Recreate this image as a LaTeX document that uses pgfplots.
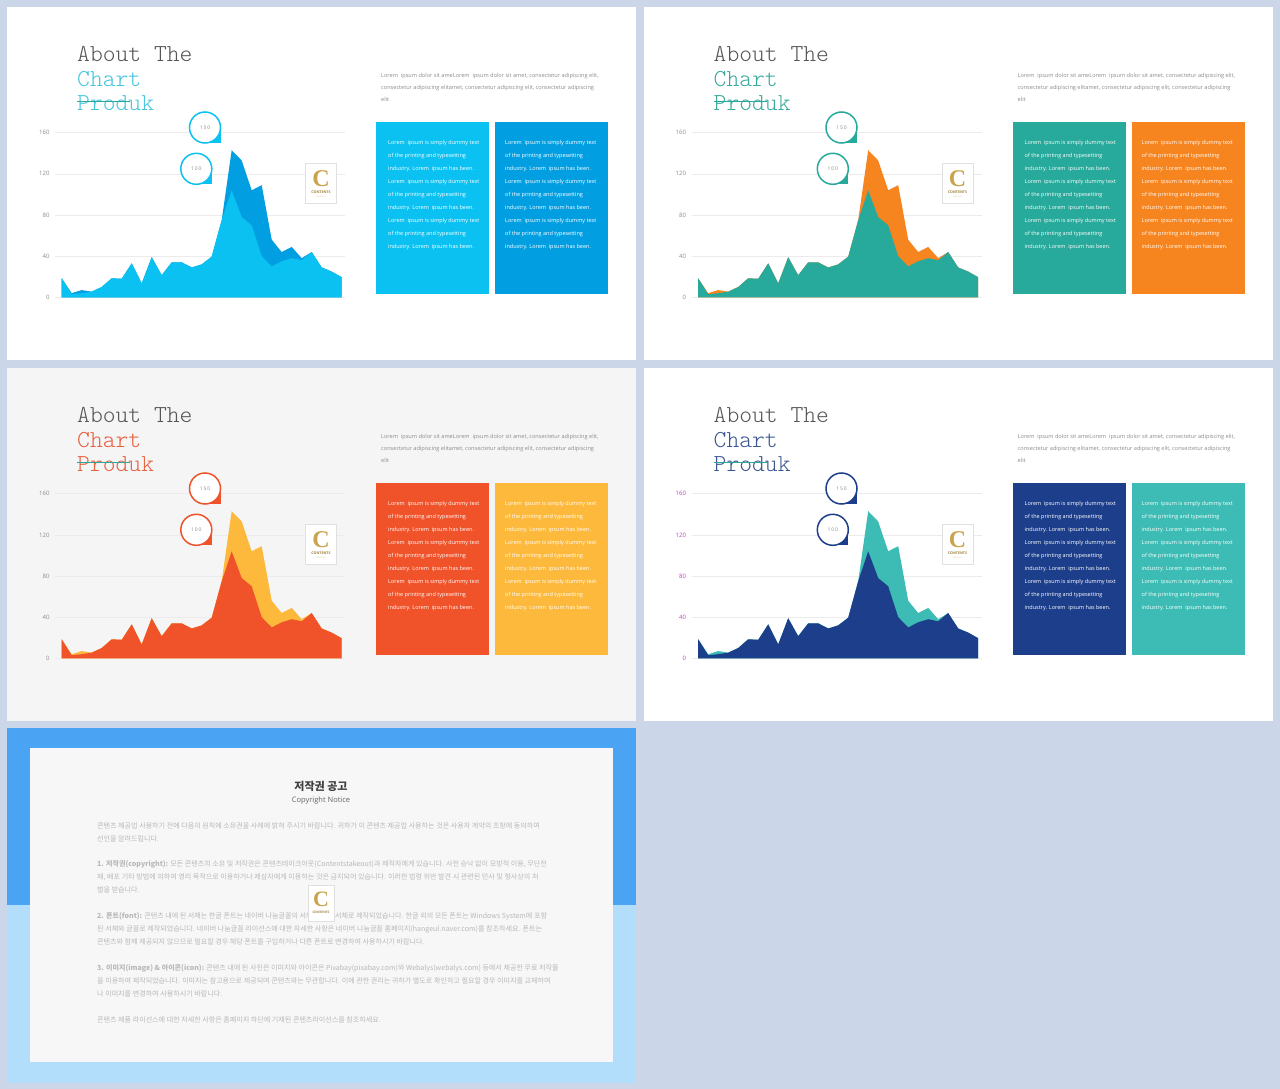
\documentclass[border=0pt]{standalone}
\usepackage{fontspec}
\setmainfont{Open Sans}
\newfontfamily\kr{Noto Sans CJK KR}
\newfontfamily\serifc{Liberation Serif}
\newfontfamily\titlemono{Latin Modern Mono Light}
\usepackage{pgfplots}
\pgfplotsset{compat=1.18}
\usepackage{pgfplotstable}

\definecolor{pagebg}{HTML}{CBD6E8}
\definecolor{gridc}{HTML}{EBEBEB}
\definecolor{txtgray}{HTML}{8C8C8C}
\definecolor{titlegray}{HTML}{555555}
\definecolor{strike}{HTML}{2BA89A}
\definecolor{goldc}{HTML}{C9A44C}
\definecolor{cyanA}{HTML}{0BC1F1}
\definecolor{blueB}{HTML}{019FE2}
\definecolor{cyanT}{HTML}{45C6DE}
\definecolor{tealA}{HTML}{27A99B}
\definecolor{orangeB}{HTML}{F6841F}
\definecolor{tealT}{HTML}{3AAA9C}
\definecolor{redA}{HTML}{F0522A}
\definecolor{yellowB}{HTML}{FDB93C}
\definecolor{redT}{HTML}{E8603F}
\definecolor{navyA}{HTML}{1D3F8B}
\definecolor{tealB}{HTML}{3CBCB4}
\definecolor{navyT}{HTML}{3C5792}
\definecolor{magT}{HTML}{C43CC4}
\definecolor{slgray}{HTML}{F5F5F5}
\definecolor{cpTop}{HTML}{4BA3F4}
\definecolor{cpBot}{HTML}{B2DEFB}
\definecolor{cpCard}{HTML}{F7F7F7}
\definecolor{krgray}{HTML}{B8B8B8}

% 29 points, back series drawn first, front series over it
\pgfplotstableread{
x front back
0 18.5 18.5
1 3 4
2 4 7
3 5.5 5.5
4 10 10
5 18.5 18.5
6 18 18
7 33 33
8 13.5 13.5
9 39 39
10 21.5 21.5
11 34 34
12 34 34
13 29 29
14 32 32
15 39.5 39.5
16 75 75
17 104 143
18 78 133
19 70 104
20 40 109
21 30 56
22 35 44
23 38 49
24 36 38
25 44 44
26 29 29
27 25 25
28 19.5 19.5
}\chartdata

\newcommand\bubble[4]{%
  \fill[#4] (#1,#2) rectangle ++(15.5,15.5);
  \fill[white] (#1,#2) circle[radius=15.5];
  \draw[#4, line width=1.5pt] (#1,#2) circle[radius=15.5];
  \node[font=\fontsize{5}{5}\selectfont, text=txtgray] at (#1,#2) {#3};
}

\newcommand\logo[2]{%
  \draw[draw=black!12, fill=white, line width=0.6pt] (#1-15.5,#2-20) rectangle (#1+15.5,#2+20);
  \node[text=goldc, font=\serifc\fontsize{24}{24}\selectfont\bfseries] at (#1,#2-4) {C};
  \node[text=goldc!80!black, font=\fontsize{3.6}{4}\selectfont\bfseries] at (#1,#2+9) {CONTENTS};
  \node[text=goldc!70, font=\fontsize{2}{2}\selectfont] at (#1,#2+14) {TAKE OUT};
}

\newcommand\boxlines{Lorem\ \ ipsum is simply dummy text\\of the printing and typesetting\\industry. Lorem\ \ ipsum has been.}

% dx, dy, panel colour, front, back, title colour, tick colour
\newcommand\slide[7]{%
\begin{scope}[shift={(#1,-#2)}, x=1pt, y=-1pt]
  \fill[#3] (7,7) rectangle (636,360);
  \node[anchor=base west, inner sep=0, font=\titlemono\fontsize{24.4}{24.4}\selectfont, text=titlegray] at (77,61.5) {About The};
  \node[anchor=base west, inner sep=0, font=\titlemono\fontsize{24.4}{24.4}\selectfont, text=#6] at (77,86.5) {Chart};
  \node[anchor=base west, inner sep=0, font=\titlemono\fontsize{24.4}{24.4}\selectfont, text=#6] at (77,110.5) {Produk};
  \draw[strike, line width=1.6pt] (77,101.5) -- (130,101.5);
  \node[anchor=west, inner sep=0, align=left, text=txtgray, font=\fontsize{5.6}{12}\selectfont] at (381,87.5)
    {Lorem\ \ ipsum dolor sit ameLorem\ \ ipsum dolor sit amet, consectetur adipiscing elit,\\consectetur adipiscing elitamet, consectetur adipiscing elit, consectetur adipiscing\\elit};
  \fill[#4] (376,122) rectangle (489,294);
  \fill[#5] (495,122) rectangle (608,294);
  \node[anchor=north west, inner sep=0, align=left, text=white, font=\fontsize{5.5}{13}\selectfont] at (388,140)
    {\boxlines\\\boxlines\\\boxlines};
  \node[anchor=north west, inner sep=0, align=left, text=white, font=\fontsize{5.5}{13}\selectfont] at (505,140)
    {\boxlines\\\boxlines\\\boxlines};
\end{scope}
\begin{axis}[
  at={(#1+55pt,-#2-297.3pt)}, anchor=south west,
  scale only axis, width=290pt, height=164.6pt,
  xmin=-0.67, xmax=28.33, ymin=0, ymax=160,
  ytick={0,40,...,160}, xtick=\empty,
  axis line style={draw=none}, major tick style={draw=none},
  ymajorgrids, grid style={draw=gridc, line width=0.6pt},
  yticklabel style={font=\fontsize{6}{6}\selectfont, text=#7, xshift=-2pt},
  /pgf/number format/assume math mode=true,
]
\addplot[fill=#5, draw=none] table[x=x, y=back] {\chartdata} \closedcycle;
\addplot[fill=#4, draw=none] table[x=x, y=front] {\chartdata} \closedcycle;
\end{axis}
\begin{scope}[shift={(#1,-#2)}, x=1pt, y=-1pt]
  \bubble{205}{127.5}{1\,5\,0}{#4}
  \bubble{196.3}{168.8}{1\,0\,0}{#4}
  \logo{321}{183}
\end{scope}
}

\newcommand\krline[2]{\node[anchor=west, inner sep=0, text=krgray, font=\kr\fontsize{7.05}{7.05}\selectfont] at (97,#1) {#2};}

\begin{document}
\begin{tikzpicture}
\begin{scope}[x=1pt, y=-1pt]
  \fill[pagebg] (0,0) rectangle (1280,1089);
\end{scope}

\slide{0pt}{0pt}{white}{cyanA}{blueB}{cyanT}{txtgray}
\slide{636.5pt}{0pt}{white}{tealA}{orangeB}{tealT}{txtgray}
\slide{0pt}{361pt}{slgray}{redA}{yellowB}{redT}{txtgray}
\slide{636.5pt}{361pt}{white}{navyA}{tealB}{navyT}{magT}

\begin{scope}[x=1pt, y=-1pt]
  \fill[cpTop] (7,728) rectangle (636,905);
  \fill[cpBot] (7,905) rectangle (636,1083);
  \fill[cpCard] (30,748) rectangle (613,1062);
  \node[text=black!75, font=\kr\fontsize{11}{11}\selectfont\bfseries] at (321,786) {저작권 공고};
  \node[text=black!60, font=\fontsize{7.5}{7.5}\selectfont] at (321,801) {Copyright Notice};
  \krline{826}{콘텐츠 제공업 사용하기 전에 다음의 원칙에 소유권을 사례에 밝혀 주시기 바랍니다. 귀하가 이 콘텐츠 제공업 사용하는 것은 사용자 계약의 조항에 동의하여}
  \krline{839}{선언을 알려드립니다.}
  \krline{864}{\textbf{1. 저작권(copyright):} 모든 콘텐츠의 소유 및 저작권은 콘텐츠테이크아웃(Contentstakeout)과 제작자에게 있습니다. 사전 승낙 없이 모방적 이용, 무단전}
  \krline{877}{재, 배포 기타 방법에 의하여 영리 목적으로 이용하거나 제삼자에게 이용하는 것은 금지되어 있습니다. 이러한 법령 위반 발견 시 관련된 민사 및 형사상의 처}
  \krline{890}{벌을 받습니다.}
  \krline{916}{\textbf{2. 폰트(font):} 콘텐츠 내에 된 서체는 한글 폰트는 네이버 나눔글꼴의 서체와 같은 서체로 제작되었습니다. 한글 외의 모든 폰트는 Windows System에 포함}
  \krline{929}{된 서체와 글꼴로 제작되었습니다. 네이버 나눔글꼴 라이선스에 대한 자세한 사항은 네이버 나눔글꼴 홈페이지(hangeul.naver.com)를 참조하세요. 폰트는}
  \krline{942}{콘텐츠와 함께 제공되지 않으므로 필요할 경우 해당 폰트를 구입하거나 다른 폰트로 변경하여 사용하시기 바랍니다.}
  \krline{968}{\textbf{3. 이미지(image) \& 아이콘(icon):} 콘텐츠 내에 된 사진은 이미지와 아이콘은 Pixabay(pixabay.com)와 Webalys(webalys.com) 등에서 제공한 무료 저작물}
  \krline{981}{을 이용하여 제작되었습니다. 이미지는 참고용으로 제공되며 콘텐츠와는 무관합니다. 이에 관한 권리는 귀하가 별도로 확인하고 필요할 경우 이미지를 교체하여}
  \krline{994}{나 이미지를 변경하여 사용하시기 바랍니다.}
  \krline{1020}{콘텐츠 제품 라이선스에 대한 자세한 사항은 홈페이지 하단에 기재된 콘텐츠라이선스를 참조하세요.}
  \draw[draw=black!12, fill=white, line width=0.6pt] (308,885) rectangle (334,921);
  \node[text=goldc, font=\serifc\fontsize{22}{22}\selectfont\bfseries] at (321,899) {C};
  \node[text=goldc!80!black, font=\fontsize{3.2}{4}\selectfont\bfseries] at (321,912) {CONTENTS};
\end{scope}
\end{tikzpicture}
\end{document}
